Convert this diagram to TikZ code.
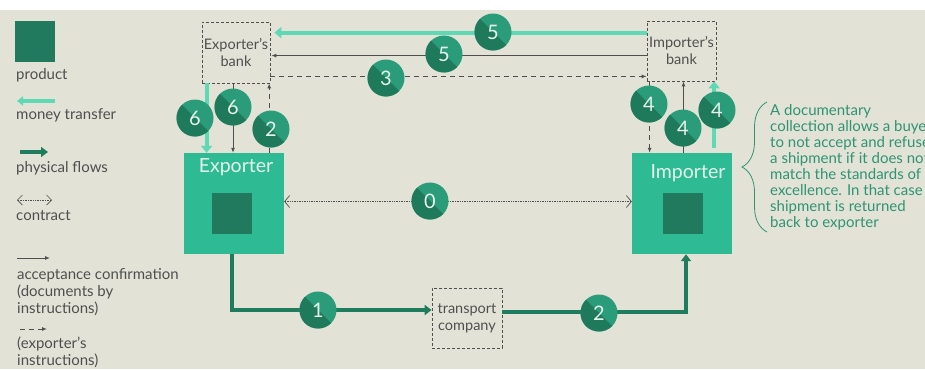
\documentclass[tikz,border=0pt]{standalone}
\usepackage{fontspec}
\setmainfont{Lato}
\usetikzlibrary{arrows.meta,decorations.pathreplacing}

\definecolor{bgbeige}{HTML}{E3E2D7}
\definecolor{partyteal}{HTML}{2EBB93}
\definecolor{proddark}{HTML}{217A5D}
\definecolor{partytext}{HTML}{E4F4EC}
\definecolor{moneygreen}{HTML}{5FD8B4}
\definecolor{physgreen}{HTML}{1F7D5E}
\definecolor{numdark}{HTML}{1F795B}
\definecolor{numlight}{HTML}{2A9C79}
\definecolor{numtext}{HTML}{E6F2EC}
\definecolor{inkgray}{HTML}{4F4F4F}
\definecolor{notegreen}{HTML}{2E9472}

\begin{document}
\begin{tikzpicture}[x=1pt, y=-1pt]
    % Define styles
    \tikzset{
        party/.style={
            fill=partyteal,
            minimum width=100pt,
            minimum height=101pt,
            inner sep=0pt
        },
        goods/.style={
            fill=proddark,
            minimum width=40pt,
            minimum height=41pt,
            inner sep=0pt
        },
        partyname/.style={
            text=partytext,
            font=\fontsize{19.5}{19.5}\selectfont
        },
        office/.style={
            draw=inkgray,
            dash pattern=on 3pt off 2pt,
            line width=0.8pt,
            minimum width=68pt,
            minimum height=61pt,
            inner sep=0pt,
            align=center,
            text=inkgray,
            font=\fontsize{14.5}{17}\selectfont
        },
        num/.style={
            circle,
            minimum size=37pt,
            inner sep=0pt,
            fill=numlight,
            text=numtext,
            font=\fontsize{20}{20}\selectfont,
            path picture={
                \fill[numdark] (path picture bounding box.north west)
                    -- (path picture bounding box.south east)
                    -- (path picture bounding box.south west) -- cycle;
            }
        },
        money/.style={
            moneygreen,
            line width=4pt,
            -{Triangle[length=7pt, width=11pt]}
        },
        phys/.style={
            physgreen,
            line width=4pt,
            -{Triangle[length=7pt, width=10pt]}
        },
        docs/.style={
            inkgray,
            line width=0.9pt,
            -{Latex[length=5pt, width=4pt]}
        },
        instr/.style={
            docs,
            dash pattern=on 5pt off 4pt
        },
        contract/.style={
            inkgray,
            line width=0.7pt,
            densely dotted,
            {Straight Barb[length=5pt, width=12pt]}-{Straight Barb[length=5pt, width=12pt]}
        },
        legend/.style={
            anchor=north west,
            inner sep=0pt,
            align=left,
            text=inkgray,
            font=\fontsize{15}{17}\selectfont
        },
        note/.style={
            anchor=north west,
            inner sep=0pt,
            align=left,
            text=notegreen,
            font=\fontsize{15}{16}\selectfont
        }
    }

    % Background
    \fill[white] (0,0) rectangle (925,10);
    \fill[bgbeige] (0,10) rectangle (925,369);
    \useasboundingbox (0,0) rectangle (925,369);

    % Legend
    \begin{scope}
        \node[goods] (lgoods) at (35,41.5) {};
        \node[legend] (lprod) at (16,68) {product};

        \coordinate (lmoneyA) at (55,101);
        \coordinate (lmoneyB) at (17,101);
        \draw[money, line width=3.5pt, -{Triangle[length=6pt, width=9pt]}] (lmoneyA) -- (lmoneyB);
        \node[legend] (lmoney) at (16,108) {money transfer};

        \coordinate (lphysA) at (20,152);
        \coordinate (lphysB) at (48,152);
        \draw[phys] (lphysA) -- (lphysB);
        \node[legend] (lphys) at (16,161) {physical flows};

        \coordinate (lcontrA) at (17,200);
        \coordinate (lcontrB) at (52,200);
        \draw[contract, {Straight Barb[length=5pt, width=10pt]}-{Straight Barb[length=5pt, width=10pt]}] (lcontrA) -- (lcontrB);
        \node[legend] (lcontr) at (16,210) {contract};

        \coordinate (ldocsA) at (17,258);
        \coordinate (ldocsB) at (50,258);
        \draw[docs] (ldocsA) -- (ldocsB);
        \node[legend] (ldocs) at (17,268) {acceptance confirmation\\(documents by\\instructions)};

        \coordinate (linstrA) at (20,329);
        \coordinate (linstrB) at (47,329);
        \draw[instr] (linstrA) -- (linstrB);
        \node[legend] (linstr) at (17,337) {(exporter's\\instructions)};
    \end{scope}

    % Parties and banks
    \node[party] (exp) at (234,203.5) {};
    \node[goods] (expgoods) at (232,213.5) {};
    \node[partyname] (expname) at (236,167) {Exporter};

    \node[party] (imp) at (682,203.5) {};
    \node[goods] (impgoods) at (683,213.5) {};
    \node[partyname] (impname) at (688,173) {Importer};

    \node[office] (ebank) at (236,52.5) {Exporter's\\bank};
    \node[office, minimum width=69pt, minimum height=60pt] (ibank) at (681.5,51) {Importer's\\bank};
    \node[office, minimum width=70pt, minimum height=60pt] (tc) at (467,318) {transport\\company};

    % Between the banks
    \draw[money, shorten >=4pt] ([yshift=-12pt]ibank.north west) coordinate (top5) -- (top5 -| ebank.east);
    \draw[docs, shorten >=1pt] ([yshift=-35pt]ibank.north west) coordinate (mid5) -- (mid5 -| ebank.east);
    \draw[instr] ([yshift=7pt]ebank.south east) coordinate (low3) -- (low3 -| ibank.west);

    % Exporter's bank and exporter
    \draw[money] ([xshift=5pt]ebank.south west) coordinate (e6a) -- (e6a |- exp.north);
    \draw[docs] ([xshift=-3pt]ebank.south) coordinate (e6b) -- (e6b |- exp.north);
    \draw[instr] ([xshift=-1pt]exp.north east) ++(-14pt,0) coordinate (e2) -- (e2 |- ebank.south);

    % Importer's bank and importer
    \draw[instr] ([xshift=3pt]ibank.south west) coordinate (i4a) -- (i4a |- imp.north);
    \draw[docs] ([xshift=1.5pt]imp.north) coordinate (i4b) -- (i4b |- ibank.south);
    \draw[money] ([xshift=-18pt,yshift=5pt]imp.north east) coordinate (i4c) -- (i4c |- ibank.south);

    % Contract
    \draw[contract] ([yshift=2pt]exp.east) -- ([yshift=2pt]imp.west);

    % Physical flows
    \draw[phys] ([xshift=-2pt]exp.south) |- ([yshift=8pt]tc.west);
    \draw[phys] ([yshift=6pt]tc.east) -| ([xshift=4pt]imp.south);

    % Step numbers
    \foreach \name/\x/\y/\n in {s0/430/201/0, s1/318/310/1, s2b/599/313/2, s3/386/78/3,
                                s5a/493/32/5, s5b/444/54/5, s6a/195/118/6, s6b/233/107/6,
                                s2a/271/129/2, s4a/649/104/4, s4b/683/128/4, s4c/717/110/4}
        \node[num] (\name) at (\x,\y) {\n};

    % Note
    \node[note] (note) at (770,104) {A documentary\\collection allows a buyer\\to not accept and refuse\\a shipment if it does not\\match the standards of\\excellence. In that case\\shipment is returned\\back to exporter};
    \draw[notegreen, line width=0.8pt, decorate, decoration={brace, amplitude=25pt}]
        ([xshift=-3pt, yshift=-2pt]note.south west) -- ([xshift=-3pt, yshift=2pt]note.north west);

\end{tikzpicture}
\end{document}
